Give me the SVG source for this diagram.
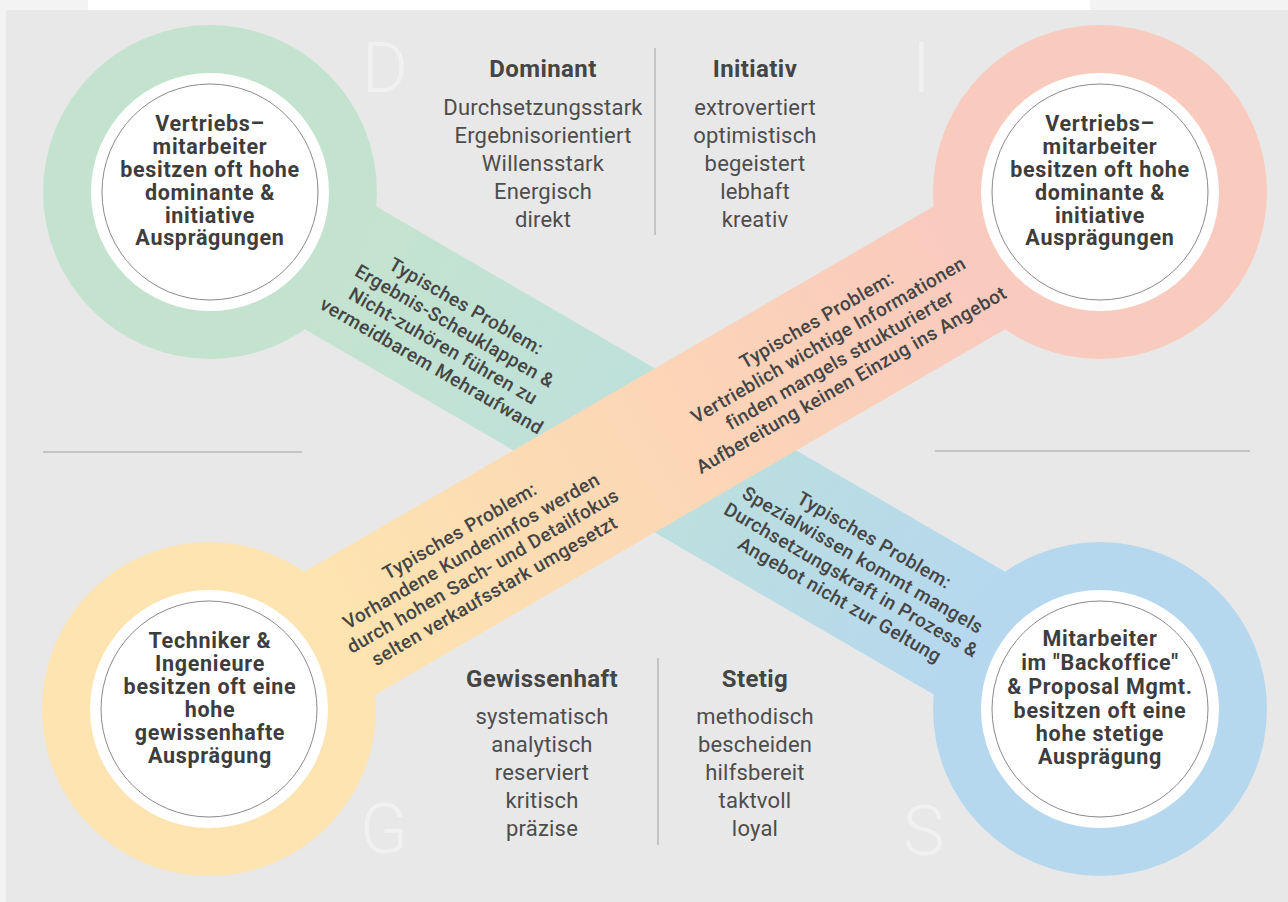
<svg xmlns="http://www.w3.org/2000/svg" width="1288" height="902" viewBox="0 0 1288 902">
  <style>
    .list { font-family: Roboto, "Liberation Sans", sans-serif; font-size: 22px; fill: #4d4d4d; text-anchor: middle; letter-spacing: 0.2px; }
    .head { font-family: Roboto, "Liberation Sans", sans-serif; font-size: 24px; font-weight: 700; fill: #454545; text-anchor: middle; letter-spacing: 0.4px; }
    .node { font-family: Roboto, "Liberation Sans", sans-serif; font-size: 21.5px; font-weight: 700; fill: #3d3d3d; text-anchor: middle; letter-spacing: 0.7px; }
    .band { font-family: Roboto, "Liberation Sans", sans-serif; font-size: 19px; font-weight: 500; fill: #454545; text-anchor: middle; letter-spacing: 0.4px; }
    .big { font-family: Roboto, "Liberation Sans", sans-serif; font-size: 70px; font-weight: 300; fill: #f1f1f1; }
    .rule { stroke: #b9b9b9; stroke-width: 1.5; fill: none; }
    .disc { fill: #ffffff; }
    .edge { fill: none; stroke: #8a8a8a; stroke-width: 1; }
  </style>
  <defs>
    <linearGradient id="gDS" gradientUnits="userSpaceOnUse" x1="210" y1="192" x2="1100" y2="709">
      <stop offset="0.15" stop-color="#c4e3cf"/>
      <stop offset="0.5" stop-color="#bde0dc"/>
      <stop offset="0.85" stop-color="#b6d8ee"/>
    </linearGradient>
    <linearGradient id="gGI" gradientUnits="userSpaceOnUse" x1="209" y1="709" x2="1100" y2="192">
      <stop offset="0.15" stop-color="#fde4b0"/>
      <stop offset="0.5" stop-color="#fcd7b6"/>
      <stop offset="0.85" stop-color="#f9cabe"/>
    </linearGradient>
  </defs>

  <!-- page and panel -->
  <rect x="0" y="0" width="1288" height="902" fill="#f3f3f3"/>
  <rect x="88" y="0" width="1002" height="10" fill="#ffffff"/>
  <rect x="6" y="10" width="1282" height="892" fill="#e8e8e8"/>

  <!-- faint quadrant letters -->
  <text class="big" x="362" y="92">D</text>
  <text class="big" x="912" y="92">I</text>
  <text class="big" x="360" y="853">G</text>
  <text class="big" x="903" y="855">S</text>

  <!-- dividers -->
  <g id="dividers">
    <line class="rule" x1="655" y1="48" x2="655" y2="235"/>
    <line class="rule" x1="658" y1="658" x2="658" y2="845"/>
    <line class="rule" x1="43" y1="452" x2="302" y2="452"/>
    <line class="rule" x1="935" y1="451" x2="1250" y2="451"/>
  </g>

  <!-- connecting bands -->
  <g id="connectors">
    <polygon id="band-d-s" fill="url(#gDS)" points="245.6,130.6 1135.6,647.6 1064.4,770.4 174.4,253.4"/>
    <polygon id="band-g-i" fill="url(#gGI)" points="173.3,647.6 1064.4,130.6 1135.6,253.4 244.7,770.4"/>
  </g>

  <!-- trait lists -->
  <g id="traits-d">
    <text class="head" x="543" y="77">Dominant</text>
    <text class="list" x="543" y="115">Durchsetzungsstark</text>
    <text class="list" x="543" y="143">Ergebnisorientiert</text>
    <text class="list" x="543" y="171">Willensstark</text>
    <text class="list" x="543" y="199">Energisch</text>
    <text class="list" x="543" y="227">direkt</text>
  </g>
  <g id="traits-i">
    <text class="head" x="755" y="77">Initiativ</text>
    <text class="list" x="755" y="115">extrovertiert</text>
    <text class="list" x="755" y="143">optimistisch</text>
    <text class="list" x="755" y="171">begeistert</text>
    <text class="list" x="755" y="199">lebhaft</text>
    <text class="list" x="755" y="227">kreativ</text>
  </g>
  <g id="traits-g">
    <text class="head" x="542" y="687">Gewissenhaft</text>
    <text class="list" x="542" y="724">systematisch</text>
    <text class="list" x="542" y="752">analytisch</text>
    <text class="list" x="542" y="780">reserviert</text>
    <text class="list" x="542" y="808">kritisch</text>
    <text class="list" x="542" y="836">präzise</text>
  </g>
  <g id="traits-s">
    <text class="head" x="755" y="687">Stetig</text>
    <text class="list" x="755" y="724">methodisch</text>
    <text class="list" x="755" y="752">bescheiden</text>
    <text class="list" x="755" y="780">hilfsbereit</text>
    <text class="list" x="755" y="808">taktvoll</text>
    <text class="list" x="755" y="836">loyal</text>
  </g>

  <!-- profile nodes -->
  <g id="node-d">
    <circle cx="210" cy="192" r="167" fill="#c4e3cf"/>
    <circle class="disc" cx="210" cy="192" r="119"/>
    <circle class="edge" cx="210" cy="192" r="108"/>
    <text class="node" x="210" y="131">Vertriebs–</text>
    <text class="node" x="210" y="154">mitarbeiter</text>
    <text class="node" x="210" y="177">besitzen oft hohe</text>
    <text class="node" x="210" y="200">dominante &amp;</text>
    <text class="node" x="210" y="222.5">initiative</text>
    <text class="node" x="210" y="245">Ausprägungen</text>
  </g>
  <g id="node-i">
    <circle cx="1100" cy="192" r="167" fill="#f9cabe"/>
    <circle class="disc" cx="1100" cy="192" r="119"/>
    <circle class="edge" cx="1100" cy="192" r="108"/>
    <text class="node" x="1100" y="131">Vertriebs–</text>
    <text class="node" x="1100" y="154">mitarbeiter</text>
    <text class="node" x="1100" y="177">besitzen oft hohe</text>
    <text class="node" x="1100" y="200">dominante &amp;</text>
    <text class="node" x="1100" y="222.5">initiative</text>
    <text class="node" x="1100" y="245">Ausprägungen</text>
  </g>
  <g id="node-g">
    <circle cx="209" cy="709" r="167" fill="#fde4b0"/>
    <circle class="disc" cx="209" cy="709" r="119"/>
    <circle class="edge" cx="209" cy="709" r="108"/>
    <text class="node" x="210" y="648">Techniker &amp;</text>
    <text class="node" x="210" y="671">Ingenieure</text>
    <text class="node" x="210" y="694">besitzen oft eine</text>
    <text class="node" x="210" y="717">hohe</text>
    <text class="node" x="210" y="740">gewissenhafte</text>
    <text class="node" x="210" y="763">Ausprägung</text>
  </g>
  <g id="node-s">
    <circle cx="1100" cy="709" r="167" fill="#b6d8ee"/>
    <circle class="disc" cx="1100" cy="709" r="119"/>
    <circle class="edge" cx="1100" cy="709" r="108"/>
    <text class="node" x="1100" y="646">Mitarbeiter</text>
    <text class="node" x="1100" y="670">im "Backoffice"</text>
    <text class="node" x="1100" y="694">&amp; Proposal Mgmt.</text>
    <text class="node" x="1100" y="718">besitzen oft eine</text>
    <text class="node" x="1100" y="741">hohe stetige</text>
    <text class="node" x="1100" y="764">Ausprägung</text>
  </g>

  <!-- problem labels on the bands (drawn last so they run over the rings) -->
  <g id="label-d" transform="translate(449,336) rotate(30)">
    <text class="band" x="0" y="-28">Typisches Problem:</text>
    <text class="band" x="0" y="-5">Ergebnis-Scheuklappen &amp;</text>
    <text class="band" x="0" y="18">Nicht-zuhören führen zu</text>
    <text class="band" x="0" y="41">vermeidbarem Mehraufwand</text>
  </g>
  <g id="label-i" transform="translate(834,350) rotate(-30)">
    <text class="band" x="0" y="-28">Typisches Problem:</text>
    <text class="band" x="0" y="-5">Vertrieblich wichtige Informationen</text>
    <text class="band" x="0" y="18">finden mangels strukturierter</text>
    <text class="band" x="0" y="41">Aufbereitung keinen Einzug ins Angebot</text>
  </g>
  <g id="label-g" transform="translate(477,561) rotate(-30)">
    <text class="band" x="0" y="-28">Typisches Problem:</text>
    <text class="band" x="0" y="-5">Vorhandene Kundeninfos werden</text>
    <text class="band" x="0" y="18">durch hohen Sach- und Detailfokus</text>
    <text class="band" x="0" y="41">selten verkaufsstark umgesetzt</text>
  </g>
  <g id="label-s" transform="translate(857,570) rotate(30)">
    <text class="band" x="0" y="-28">Typisches Problem:</text>
    <text class="band" x="0" y="-5">Spezialwissen kommt mangels</text>
    <text class="band" x="0" y="18">Durchsetzungskraft in Prozess &amp;</text>
    <text class="band" x="0" y="41">Angebot nicht zur Geltung</text>
  </g>
</svg>
